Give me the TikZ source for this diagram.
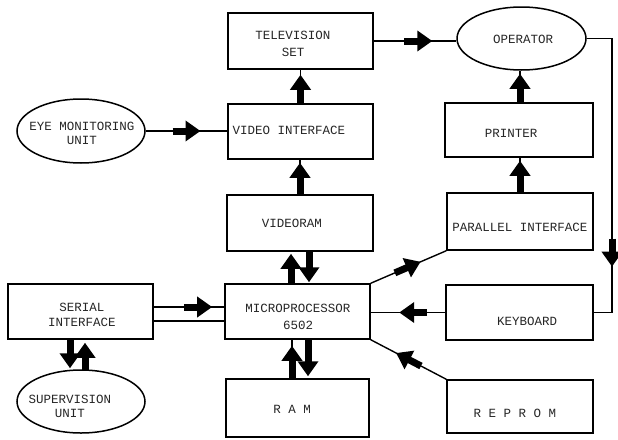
\documentclass[tikz,border=0pt]{standalone}
\usepackage{fontspec}
\newfontfamily\tw{Liberation Mono}
\usetikzlibrary{arrows.meta,shapes.geometric,decorations.markings,calc}
\begin{document}
\begin{tikzpicture}[x=1pt,y=-1pt,
 box/.style={draw, line width=1.5pt, inner sep=0pt, rectangle},
 oval/.style={draw, line width=1.5pt, inner sep=0pt, ellipse},
 txt/.style={font=\tw\fontsize{12.5}{15}\selectfont, text=black!85, align=center, inner sep=0pt},
 conn/.style={line width=1.4pt},
 fat/.style={line width=7pt, -{Triangle[length=15pt,width=20pt]}},
 midfat/.style={postaction={decorate}, decoration={markings, mark=at position #1 with {\draw[fat] (-14pt,0pt) -- (14pt,0pt);}}}]
\fill[white] (0,0) rectangle (618,439);
\useasboundingbox (0,0) rectangle (618,439);
% boxes
\node[box, minimum width=145, minimum height=56] (tv) at (300.5,41) {};
\node[box, minimum width=145, minimum height=55] (vi) at (300.5,131.5) {};
\node[box, minimum width=146, minimum height=56] (vr) at (300,223) {};
\node[box, minimum width=145, minimum height=55] (mp) at (297.5,311.5) {};
\node[box, minimum width=143, minimum height=58] (ram) at (297.5,408) {};
\node[box, minimum width=145, minimum height=55] (si) at (80.5,311.5) {};
\node[box, minimum width=148, minimum height=54] (pr) at (519,130) {};
\node[box, minimum width=146, minimum height=57] (pi) at (520,221.5) {};
\node[box, minimum width=147, minimum height=55] (kb) at (519.5,312.5) {};
\node[box, minimum width=146, minimum height=53] (rp) at (520,406.5) {};
\node[oval, minimum width=128, minimum height=64] (eye) at (81,131) {};
\node[oval, minimum width=128, minimum height=63] (sup) at (81,401.5) {};
\node[oval, minimum width=129, minimum height=63] (op) at (521.5,38.5) {};
% texts
\node[txt] (tvt) at (293,43.5) {TELEVISION\\[2pt]SET};
\node[txt] (vit) at (289,130) {VIDEO INTERFACE};
\node[txt] (vrt) at (292,223) {VIDEORAM};
\node[txt] (mpt) at (298,316.5) {MICROPROCESSOR\\[2pt]6502};
\node[txt] (ramt) at (292,409) {R A M};
\node[txt] (sit) at (82,314.5) {SERIAL\\INTERFACE};
\node[txt] (supt) at (70,406) {SUPERVISION\\[-1pt]UNIT};
\node[txt] (eyet) at (82,133) {EYE MONITORING\\[-1pt]UNIT};
\node[txt] (opt) at (523,39) {OPERATOR};
\node[txt] (prt) at (511,133) {PRINTER};
\node[txt] (pit) at (520,227) {PARALLEL INTERFACE};
\node[txt] (kbt) at (527,321) {KEYBOARD};
\node[txt] (rpt) at (515,413) {R E P R O M};
% horizontal / diagonal connectors with mid arrows
\draw[conn, midfat=0.54] (tv.east) -- (tv.east -| op.west);
\draw[conn, midfat=0.5] (eye.east) -- (eye.east -| vi.west);
\draw[conn, midfat=0.63] ($(si.east)+(0,-4.5)$) coordinate (s1) -- (s1 -| mp.west);
\draw[conn] ($(si.east)+(0,9.5)$) coordinate (s2) -- (s2 -| mp.west);
\draw[conn, midfat=0.43] (kb.west) -- (kb.west -| mp.east);
\draw[conn, midfat=0.49] (mp.north east) -- (pi.south west);
\draw[conn, midfat=0.5] (rp.north west) -- (mp.south east);
\coordinate (cr) at (612,38.5);
\draw[conn, midfat=0.754] (op.east) -- (cr) |- (kb.east);
% vertical fat arrows
\draw[conn] (vi.north) -- (vi.north |- tv.south);
\draw[fat] (vi.north) -- ($(vi.north |- tv.south)+(0,5)$);
\draw[conn] (vr.north) -- (vr.north |- vi.south);
\draw[fat] (vr.north) -- ($(vr.north |- vi.south)+(0,3)$);
\draw[fat] ($(mp.north)+(-6.5,0)$) coordinate (a1) -- ($(a1 |- vr.south)+(0,2)$);
\draw[fat] ($(vr.south)+(9,0)$) coordinate (a2) -- ($(a2 |- mp.north)+(0,-1)$);
\draw[conn] ($(ram.north)+(-5.5,0)$) coordinate (a3) -- (a3 |- mp.south);
\draw[fat] (a3) -- ($(a3 |- mp.south)+(0,6)$);
\draw[fat] ($(mp.south)+(10.5,0)$) coordinate (a4) -- ($(a4 |- ram.north)+(0,-2)$);
\draw[fat] ($(si.south)+(-10.5,0)$) coordinate (a5) -- ($(a5 |- sup.north)+(0,-1)$);
\draw[fat] ($(si.south)+(4.5,0)$) coordinate (a6) ($(a6 |- sup.north)+(0,0.5)$) -- ($(a6)+(0,3)$);
\draw[conn] ($(pr.north)+(1,0)$) coordinate (a7) -- (a7 |- op.south);
\draw[fat] (a7) -- ($(a7 |- op.south)+(0,3)$);
\draw[conn] (pi.north) -- (pi.north |- pr.south);
\draw[fat] (pi.north) -- ($(pi.north |- pr.south)+(0,3)$);
\end{tikzpicture}
\end{document}
